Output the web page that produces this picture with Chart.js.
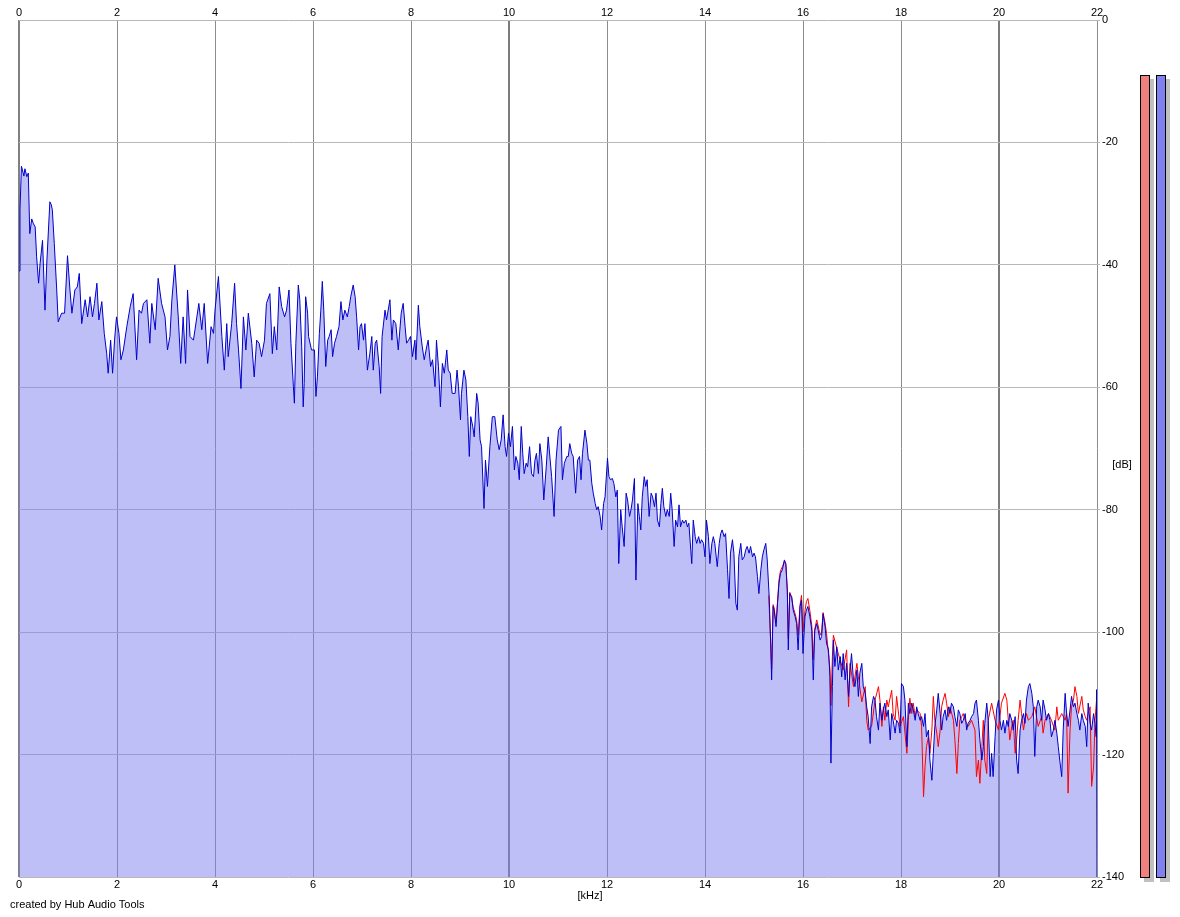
<!DOCTYPE html>
<html>
<head>
<meta charset="utf-8">
<script src="https://cdn.jsdelivr.net/npm/chart.js@4.4.1/dist/chart.umd.min.js"></script>
<style>
  html, body { margin: 0; padding: 0; background: #ffffff; }
  #wrap { position: relative; width: 1180px; height: 917px; }
</style>
</head>
<body>
<div id="wrap"><canvas id="c" width="1180" height="917"></canvas></div>
<script>
// ---- DATA ----
const freqTicks = [0, 2, 4, 6, 8, 10, 12, 14, 16, 18, 20, 22];   // kHz
const dbTicks = [0, -20, -40, -60, -80, -100, -120, -140];        // dB
const meterLevels = [-9, -9];                                      // L (red), R (blue) level meters, dB

// Right channel (blue) spectrum: [kHz, dB]
const blueSpectrum = [
[0.00,-41.0],[0.02,-31.0],[0.05,-23.9],[0.07,-24.5],[0.10,-25.5],[0.12,-24.3],[0.16,-25.6],[0.19,-25.0],
[0.22,-34.9],[0.26,-32.5],[0.29,-33.2],[0.33,-33.8],[0.36,-38.7],[0.40,-43.0],[0.43,-39.8],[0.48,-36.0],
[0.53,-47.4],[0.57,-39.2],[0.63,-29.7],[0.66,-30.2],[0.68,-31.0],[0.72,-36.5],[0.77,-44.1],[0.80,-49.3],
[0.87,-47.9],[0.93,-47.9],[0.99,-38.5],[1.04,-44.1],[1.08,-47.9],[1.14,-44.1],[1.19,-43.6],[1.23,-41.4],
[1.28,-49.6],[1.35,-45.7],[1.40,-48.5],[1.45,-45.2],[1.50,-48.5],[1.54,-46.3],[1.59,-43.0],[1.63,-49.0],
[1.69,-46.0],[1.74,-51.2],[1.79,-54.5],[1.82,-57.7],[1.87,-52.3],[1.91,-57.7],[1.95,-52.3],[1.99,-48.5],
[2.04,-51.2],[2.08,-55.5],[2.13,-53.9],[2.20,-50.1],[2.27,-46.8],[2.33,-44.7],[2.40,-55.5],[2.45,-47.4],
[2.50,-47.9],[2.54,-46.3],[2.61,-45.7],[2.67,-52.8],[2.71,-46.3],[2.78,-50.6],[2.84,-42.2],[2.91,-46.3],
[2.98,-48.5],[3.03,-53.9],[3.08,-51.7],[3.12,-45.7],[3.18,-40.0],[3.25,-48.5],[3.30,-56.1],[3.35,-48.5],
[3.40,-56.1],[3.44,-44.1],[3.49,-51.7],[3.56,-52.3],[3.63,-48.5],[3.67,-46.3],[3.73,-50.6],[3.78,-46.3],
[3.85,-56.1],[3.92,-50.1],[3.97,-51.2],[4.00,-47.4],[4.07,-41.9],[4.14,-51.7],[4.19,-57.2],[4.24,-49.6],
[4.27,-55.0],[4.34,-49.6],[4.40,-43.0],[4.44,-49.6],[4.48,-53.9],[4.53,-60.2],[4.58,-48.5],[4.63,-53.9],
[4.68,-47.9],[4.75,-52.8],[4.80,-58.3],[4.85,-52.3],[4.90,-52.8],[4.95,-55.0],[5.01,-52.3],[5.05,-46.3],
[5.12,-44.7],[5.17,-54.5],[5.21,-50.1],[5.26,-53.9],[5.31,-43.6],[5.36,-46.8],[5.42,-48.5],[5.46,-47.4],
[5.51,-44.1],[5.55,-52.8],[5.60,-59.9],[5.62,-62.6],[5.65,-52.8],[5.70,-43.3],[5.73,-45.7],[5.77,-53.4],
[5.80,-63.2],[5.82,-59.4],[5.85,-45.2],[5.89,-47.9],[5.91,-51.7],[5.97,-53.9],[6.03,-53.9],[6.06,-61.5],
[6.09,-58.3],[6.13,-51.2],[6.16,-47.4],[6.19,-42.7],[6.22,-47.4],[6.26,-56.6],[6.30,-52.3],[6.33,-51.7],
[6.37,-50.6],[6.40,-55.0],[6.44,-52.8],[6.48,-51.7],[6.53,-50.1],[6.57,-46.0],[6.61,-49.0],[6.65,-47.4],
[6.70,-48.5],[6.74,-46.8],[6.77,-45.2],[6.82,-43.3],[6.86,-45.2],[6.89,-48.5],[6.93,-53.9],[6.96,-50.1],
[6.99,-49.6],[7.03,-52.3],[7.06,-49.6],[7.11,-57.2],[7.16,-54.5],[7.20,-51.7],[7.23,-57.2],[7.27,-52.8],
[7.30,-52.3],[7.35,-56.6],[7.38,-61.0],[7.41,-51.7],[7.47,-47.4],[7.50,-49.0],[7.57,-45.7],[7.61,-52.3],
[7.64,-49.0],[7.69,-49.6],[7.74,-53.9],[7.80,-47.9],[7.84,-46.3],[7.88,-50.1],[7.91,-52.8],[7.95,-52.3],
[7.99,-51.7],[8.03,-55.0],[8.08,-52.3],[8.10,-55.5],[8.15,-46.6],[8.18,-50.1],[8.23,-53.4],[8.27,-55.5],
[8.32,-53.4],[8.35,-52.3],[8.40,-56.6],[8.44,-55.5],[8.49,-59.9],[8.52,-52.3],[8.56,-56.6],[8.60,-63.2],
[8.64,-56.1],[8.68,-57.7],[8.73,-53.9],[8.76,-57.2],[8.80,-57.7],[8.84,-61.0],[8.90,-61.0],[8.94,-57.2],
[8.97,-59.9],[9.01,-65.3],[9.03,-61.0],[9.08,-57.2],[9.12,-58.8],[9.16,-64.8],[9.19,-71.3],[9.22,-64.8],
[9.26,-66.4],[9.29,-68.1],[9.34,-61.0],[9.37,-62.6],[9.41,-68.6],[9.44,-69.7],[9.49,-79.8],[9.52,-71.9],
[9.56,-76.2],[9.61,-69.7],[9.66,-64.8],[9.71,-64.8],[9.76,-68.6],[9.80,-70.2],[9.84,-68.6],[9.88,-64.5],
[9.92,-69.7],[9.95,-71.3],[9.99,-67.5],[10.03,-69.7],[10.07,-66.4],[10.11,-73.5],[10.14,-71.3],[10.18,-72.4],
[10.21,-75.1],[10.25,-66.4],[10.28,-70.8],[10.31,-74.1],[10.35,-72.4],[10.38,-73.0],[10.42,-69.7],[10.46,-74.1],
[10.50,-74.6],[10.53,-71.9],[10.56,-70.8],[10.60,-74.1],[10.63,-69.2],[10.67,-71.9],[10.71,-78.4],[10.76,-73.0],
[10.80,-68.1],[10.84,-71.9],[10.87,-74.6],[10.92,-81.1],[10.96,-71.9],[11.01,-67.0],[11.06,-66.4],[11.09,-75.1],
[11.13,-72.4],[11.18,-71.3],[11.21,-71.3],[11.24,-69.2],[11.28,-70.8],[11.31,-71.3],[11.36,-77.3],[11.40,-71.9],
[11.44,-71.3],[11.47,-75.1],[11.50,-70.8],[11.55,-67.0],[11.59,-69.2],[11.62,-71.9],[11.65,-71.9],[11.69,-75.7],
[11.72,-77.3],[11.76,-79.0],[11.79,-80.0],[11.82,-79.5],[11.86,-81.1],[11.89,-83.3],[11.93,-79.0],[11.96,-77.9],
[12.01,-71.6],[12.04,-74.6],[12.07,-75.1],[12.11,-74.9],[12.14,-75.7],[12.18,-77.9],[12.21,-76.8],[12.24,-88.8],
[12.28,-80.0],[12.31,-82.8],[12.35,-86.0],[12.39,-77.3],[12.42,-78.4],[12.46,-81.1],[12.49,-80.0],[12.52,-78.4],
[12.56,-74.9],[12.59,-91.5],[12.63,-79.0],[12.66,-81.1],[12.69,-83.3],[12.72,-77.9],[12.76,-74.6],[12.79,-76.2],
[12.82,-75.1],[12.86,-81.1],[12.90,-77.3],[12.93,-77.9],[12.97,-79.5],[13.00,-77.3],[13.03,-81.7],[13.07,-82.8],
[13.10,-79.0],[13.13,-76.5],[13.16,-79.5],[13.20,-81.1],[13.23,-80.0],[13.27,-81.1],[13.30,-77.3],[13.33,-80.0],
[13.37,-86.0],[13.40,-81.7],[13.44,-82.8],[13.47,-79.2],[13.50,-82.8],[13.54,-81.7],[13.57,-82.2],[13.61,-81.7],
[13.64,-82.8],[13.67,-82.2],[13.71,-86.6],[13.73,-88.8],[13.76,-81.7],[13.80,-84.4],[13.83,-85.5],[13.87,-84.4],
[13.90,-85.5],[13.93,-84.9],[13.97,-85.5],[14.00,-87.7],[14.03,-81.7],[14.07,-84.4],[14.10,-88.8],[14.14,-85.5],
[14.17,-84.4],[14.20,-85.5],[14.25,-89.3],[14.29,-85.5],[14.32,-83.9],[14.35,-83.3],[14.39,-84.4],[14.42,-83.9],
[14.46,-89.8],[14.49,-94.5],[14.52,-87.1],[14.56,-84.9],[14.59,-87.1],[14.63,-95.3],[14.66,-96.4],[14.69,-87.7],
[14.73,-85.5],[14.76,-88.2],[14.80,-87.7],[14.83,-86.6],[14.86,-86.0],[14.90,-87.1],[14.93,-86.0],[14.97,-87.7],
[15.00,-87.1],[15.03,-87.7],[15.07,-90.9],[15.10,-93.7],[15.14,-89.8],[15.17,-87.7],[15.20,-86.6],[15.24,-85.5],
[15.27,-88.2],[15.31,-94.2],[15.34,-101.8],[15.36,-107.8],[15.39,-95.8],[15.41,-96.4],[15.45,-99.1],[15.48,-95.3],
[15.51,-92.0],[15.54,-90.4],[15.58,-89.8],[15.62,-88.2],[15.65,-88.8],[15.68,-93.1],[15.70,-102.9],[15.73,-93.7],
[15.77,-94.2],[15.80,-96.4],[15.84,-97.5],[15.87,-98.6],[15.90,-102.9],[15.94,-95.8],[15.97,-94.8],[16.00,-103.5],
[16.04,-97.5],[16.07,-96.4],[16.10,-95.8],[16.14,-97.5],[16.18,-99.7],[16.21,-107.8],[16.24,-99.7],[16.28,-98.6],
[16.31,-99.7],[16.35,-101.3],[16.38,-100.7],[16.41,-97.0],[16.45,-99.1],[16.48,-101.8],[16.52,-102.9],[16.55,-107.3],
[16.57,-121.4],[16.60,-108.9],[16.62,-101.3],[16.65,-105.6],[16.69,-102.4],[16.72,-106.2],[16.76,-104.0],[16.79,-107.3],
[16.82,-103.5],[16.86,-107.8],[16.89,-105.1],[16.93,-110.5],[16.96,-106.2],[16.99,-103.5],[17.03,-107.8],[17.06,-108.9],
[17.10,-106.2],[17.13,-110.5],[17.16,-106.7],[17.20,-105.1],[17.23,-108.9],[17.27,-110.0],[17.30,-112.2],[17.33,-113.8],
[17.37,-118.2],[17.40,-112.2],[17.44,-110.5],[17.47,-111.1],[17.50,-113.8],[17.54,-116.0],[17.57,-111.6],[17.61,-114.4],
[17.64,-112.7],[17.67,-111.6],[17.71,-113.8],[17.74,-112.7],[17.78,-117.6],[17.81,-113.3],[17.84,-114.4],[17.88,-116.5],
[17.91,-114.4],[17.95,-114.9],[17.98,-116.5],[18.01,-108.4],[18.05,-108.9],[18.08,-111.1],[18.12,-118.7],[18.15,-111.6],
[18.18,-113.3],[18.22,-111.6],[18.25,-112.7],[18.29,-114.4],[18.32,-112.2],[18.35,-113.3],[18.39,-114.4],[18.42,-113.8],
[18.46,-115.4],[18.49,-113.3],[18.52,-117.1],[18.56,-116.0],[18.59,-120.9],[18.63,-124.2],[18.66,-119.8],[18.69,-115.4],
[18.73,-112.7],[18.76,-110.0],[18.80,-113.3],[18.83,-116.0],[18.86,-113.8],[18.90,-112.7],[18.93,-114.4],[18.97,-112.2],
[19.00,-113.3],[19.03,-111.6],[19.07,-112.2],[19.10,-113.8],[19.14,-115.4],[19.17,-112.7],[19.20,-113.3],[19.24,-114.9],
[19.27,-114.4],[19.31,-113.3],[19.34,-116.0],[19.37,-114.9],[19.41,-114.4],[19.44,-113.8],[19.48,-113.3],[19.51,-111.6],
[19.54,-111.1],[19.58,-114.4],[19.61,-117.6],[19.65,-120.9],[19.68,-118.7],[19.71,-114.9],[19.75,-111.6],[19.78,-114.4],
[19.82,-123.6],[19.85,-119.8],[19.88,-123.6],[19.92,-117.1],[19.95,-112.7],[19.99,-111.1],[20.02,-114.4],[20.05,-116.0],
[20.09,-114.4],[20.12,-116.5],[20.16,-114.4],[20.19,-115.4],[20.22,-113.3],[20.26,-114.4],[20.29,-116.0],[20.33,-113.8],
[20.36,-120.9],[20.39,-123.1],[20.43,-116.0],[20.46,-114.4],[20.50,-113.3],[20.53,-114.9],[20.56,-111.1],[20.60,-108.9],
[20.63,-108.4],[20.67,-110.0],[20.70,-112.2],[20.73,-120.3],[20.77,-112.2],[20.80,-111.1],[20.84,-112.2],[20.87,-114.4],
[20.90,-111.1],[20.94,-112.7],[20.97,-114.4],[21.01,-113.3],[21.04,-114.4],[21.07,-117.1],[21.11,-116.0],[21.14,-114.4],
[21.18,-116.5],[21.21,-118.7],[21.24,-120.9],[21.28,-123.6],[21.31,-116.0],[21.35,-110.0],[21.38,-113.3],[21.41,-115.4],
[21.45,-112.7],[21.48,-110.5],[21.52,-112.2],[21.55,-111.6],[21.59,-113.3],[21.62,-114.4],[21.65,-116.0],[21.69,-113.3],
[21.72,-114.4],[21.76,-115.4],[21.79,-118.7],[21.82,-111.6],[21.86,-114.9],[21.89,-116.0],[21.93,-113.3],[21.96,-114.9],
[21.98,-117.1],[21.99,-109.4],[22.00,-140.0]
];

// Left channel (red) spectrum where it differs from the blue one: [kHz, dB]
const redSpectrum = [
[15.30,-94.0],[15.34,-101.5],[15.36,-106.0],[15.39,-95.5],[15.41,-96.0],[15.45,-98.5],[15.48,-95.0],[15.51,-91.5],
[15.54,-90.0],[15.58,-89.3],[15.62,-88.5],[15.65,-89.0],[15.68,-93.5],[15.70,-101.0],[15.73,-93.5],[15.77,-94.5],
[15.80,-96.0],[15.84,-97.0],[15.87,-98.0],[15.90,-100.5],[15.94,-95.5],[15.97,-94.0],[16.00,-100.0],[16.04,-96.5],
[16.07,-95.0],[16.10,-94.5],[16.14,-96.5],[16.18,-99.0],[16.21,-104.5],[16.24,-99.5],[16.28,-98.0],[16.31,-99.0],
[16.35,-100.5],[16.38,-100.0],[16.41,-96.8],[16.45,-98.5],[16.48,-100.2],[16.52,-103.5],[16.55,-106.0],[16.57,-112.0],
[16.60,-104.0],[16.62,-100.5],[16.72,-103.5],[16.82,-106.2],[16.89,-102.9],[16.93,-112.2],[16.96,-105.1],[17.03,-108.9],
[17.10,-105.1],[17.13,-107.3],[17.20,-111.4],[17.27,-108.9],[17.30,-114.4],[17.33,-116.0],[17.40,-115.4],[17.47,-111.1],
[17.54,-108.9],[17.57,-111.1],[17.61,-115.4],[17.64,-112.2],[17.67,-114.4],[17.71,-111.1],[17.74,-112.2],[17.81,-109.5],
[17.84,-113.3],[17.88,-114.4],[17.91,-110.5],[17.98,-115.4],[18.05,-113.8],[18.12,-119.8],[18.15,-114.4],[18.18,-110.8],
[18.22,-113.3],[18.25,-111.6],[18.29,-113.8],[18.32,-112.7],[18.39,-113.3],[18.42,-115.4],[18.46,-126.9],[18.49,-122.0],
[18.52,-118.7],[18.56,-117.1],[18.59,-119.8],[18.63,-116.0],[18.66,-110.5],[18.69,-114.4],[18.73,-116.5],[18.76,-118.7],
[18.80,-116.0],[18.83,-112.2],[18.86,-111.1],[18.90,-110.0],[18.93,-111.6],[18.97,-113.8],[19.00,-112.2],[19.07,-114.4],
[19.10,-117.6],[19.14,-123.1],[19.17,-118.2],[19.20,-114.4],[19.24,-113.8],[19.27,-113.3],[19.31,-114.4],[19.37,-115.4],
[19.44,-114.4],[19.51,-116.0],[19.54,-123.6],[19.58,-120.9],[19.61,-124.7],[19.65,-118.7],[19.68,-114.4],[19.71,-120.9],
[19.75,-123.1],[19.78,-114.4],[19.85,-111.6],[19.92,-114.4],[19.99,-116.0],[20.05,-111.6],[20.12,-110.0],[20.16,-111.1],
[20.19,-114.4],[20.22,-117.6],[20.26,-115.4],[20.29,-114.4],[20.33,-119.8],[20.36,-117.6],[20.39,-114.4],[20.43,-111.1],
[20.46,-113.3],[20.50,-116.0],[20.53,-114.4],[20.56,-113.3],[20.60,-114.4],[20.67,-113.8],[20.73,-112.2],[20.80,-115.4],
[20.87,-113.8],[20.90,-116.5],[20.94,-114.4],[21.01,-113.3],[21.07,-114.4],[21.14,-116.0],[21.18,-112.2],[21.21,-114.4],
[21.28,-113.3],[21.35,-114.4],[21.38,-113.3],[21.41,-126.3],[21.45,-116.0],[21.48,-112.2],[21.52,-111.1],[21.55,-108.9],
[21.59,-110.5],[21.62,-113.3],[21.69,-110.5],[21.72,-112.7],[21.76,-113.8],[21.79,-114.4],[21.82,-113.3],[21.86,-112.2],
[21.89,-125.2],[21.93,-122.0],[21.96,-114.4],[21.99,-111.1]
];

// ---- CHART ----
const FONT = '"Liberation Sans", Arial, sans-serif';
const toPts = arr => arr.map(p => ({ x: p[0], y: p[1] }));

const labelsPlugin = {
  id: 'extraText',
  afterDraw(chart) {
    const ctx = chart.ctx;
    const ys = chart.scales.y;
    ctx.save();
    // level meters (values through y scale)
    const bottom = ys.getPixelForValue(dbTicks[dbTicks.length - 1]);
    const meters = [
      { x: 1140, fill: '#f08080', level: meterLevels[0] },
      { x: 1156, fill: '#8080f0', level: meterLevels[1] }
    ];
    meters.forEach(m => {
      const top = Math.round(ys.getPixelForValue(m.level));
      ctx.fillStyle = '#c0c0c0';
      ctx.fillRect(m.x + 4, top + 4, 10, bottom - top + 1);
      ctx.fillStyle = m.fill;
      ctx.fillRect(m.x, top, 10, bottom - top);
      ctx.strokeStyle = '#000000';
      ctx.lineWidth = 1;
      ctx.strokeRect(m.x + 0.5, top + 0.5, 9, bottom - top);
    });
    // titles
    ctx.fillStyle = '#000000';
    ctx.font = '11px ' + FONT;
    ctx.textBaseline = 'middle';
    ctx.textAlign = 'center';
    ctx.fillText('[kHz]', 590, 895.5);
    ctx.fillText('[dB]', 1122, 464.5);
    ctx.textAlign = 'left';
    ctx.fillText('created by Hub Audio Tools', 10, 905);
    ctx.restore();
  }
};

new Chart(document.getElementById('c'), {
  type: 'line',
  data: {
    datasets: [
      {
        label: 'R',
        data: toPts(blueSpectrum),
        borderColor: '#0000cc',
        borderWidth: 1,
        backgroundColor: 'rgba(128,128,240,0.5)',
        fill: 'start',
        pointRadius: 0,
        tension: 0
      },
      {
        label: 'L',
        data: toPts(redSpectrum),
        borderColor: '#ff0000',
        borderWidth: 1,
        fill: false,
        pointRadius: 0,
        tension: 0
      }
    ]
  },
  options: {
    responsive: false,
    animation: false,
    events: [],
    layout: { padding: { left: 19, right: 0, top: 0, bottom: 0 } },
    plugins: {
      legend: { display: false },
      tooltip: { enabled: false },
      filler: { drawTime: 'beforeDatasetsDraw' }
    },
    scales: {
      x: {
        type: 'linear',
        position: 'bottom',
        min: freqTicks[0],
        max: freqTicks[freqTicks.length - 1],
        afterBuildTicks: s => { s.ticks = freqTicks.map(v => ({ value: v })); },
        afterFit: s => { s.height = 40; },
        border: { display: false },
        grid: {
          drawTicks: false,
          color: c => (c.tick && c.tick.value % 10 === 0 && c.tick.value !== 0) ? '#7c7c7c' : (c.tick && c.tick.value === 0 ? '#808080' : '#8c8c8c'),
          lineWidth: c => (c.tick && c.tick.value % 10 === 0) ? 2 : 1
        },
        ticks: { color: '#000', font: { family: FONT, size: 11 }, padding: 1, maxRotation: 0, autoSkip: false }
      },
      x2: {
        type: 'linear',
        position: 'top',
        min: freqTicks[0],
        max: freqTicks[freqTicks.length - 1],
        afterBuildTicks: s => { s.ticks = freqTicks.map(v => ({ value: v })); },
        afterFit: s => { s.height = 20; },
        border: { display: false },
        grid: { display: false, drawTicks: false },
        ticks: { color: '#000', font: { family: FONT, size: 11 }, padding: 0, maxRotation: 0, autoSkip: false }
      },
      y: {
        type: 'linear',
        position: 'right',
        min: dbTicks[dbTicks.length - 1],
        max: dbTicks[0],
        afterBuildTicks: s => { s.ticks = dbTicks.slice().reverse().map(v => ({ value: v })); },
        afterFit: s => { s.width = 83; },
        border: { display: false },
        grid: { color: '#b8b8b8', lineWidth: 1, drawTicks: true, tickLength: 3 },
        ticks: { color: '#000', font: { family: FONT, size: 11 }, padding: 2, autoSkip: false }
      }
    }
  },
  plugins: [labelsPlugin]
});
</script>
</body>
</html>
